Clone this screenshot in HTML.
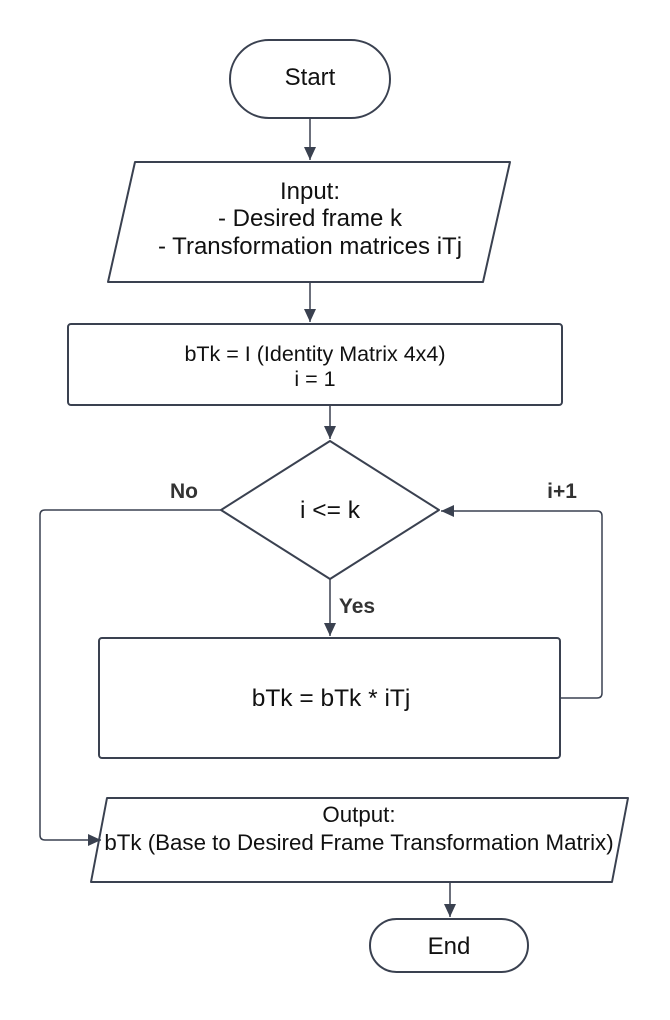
<!DOCTYPE html>
<html><head><style>body{margin:0;background:#fff}svg{display:block}</style></head><body>
<svg width="670" height="1020" viewBox="0 0 670 1020" xmlns="http://www.w3.org/2000/svg" font-family="Liberation Sans, sans-serif" fill="none">
<defs>
<marker id="b" markerWidth="14" markerHeight="14" refX="13" refY="7" orient="auto" markerUnits="userSpaceOnUse"><path d="M0,1 L13,7 L0,13 z" fill="#3a4150"/></marker></defs>
<g stroke="#3a4150" stroke-width="2">
<rect x="230" y="40" width="160" height="78" rx="39"/>
<path d="M135,162 L510,162 L483,282 L108,282 Z" stroke-linejoin="round"/>
<rect x="68" y="324" width="494" height="81" rx="3"/>
<path d="M330,441 L439,510 L330,579 L221,510 Z" stroke-linejoin="round"/>
<rect x="99" y="638" width="461" height="120" rx="3"/>
<path d="M107,798 L628,798 L612,882 L91,882 Z" stroke-linejoin="round"/>
<rect x="370" y="919" width="158" height="53" rx="26.5"/>
</g>
<g stroke="#3a4150" stroke-width="1.5">
<line x1="310" y1="118" x2="310" y2="160" marker-end="url(#b)"/>
<line x1="310" y1="282" x2="310" y2="322" marker-end="url(#b)"/>
<line x1="330" y1="405" x2="330" y2="439" marker-end="url(#b)"/>
<line x1="330" y1="579" x2="330" y2="636" marker-end="url(#b)"/>
<path d="M560,698 L597,698 Q602,698 602,693 L602,516 Q602,511 597,511 L441,511" marker-end="url(#b)"/>
<path d="M221,510 L45,510 Q40,510 40,515 L40,835 Q40,840 45,840 L101,840" marker-end="url(#b)"/>
<line x1="450" y1="882" x2="450" y2="917" marker-end="url(#b)"/>
</g>
<g fill="#111" text-anchor="middle">
<text x="310" y="85" font-size="24">Start</text>
<text x="310" y="199" font-size="24">Input:</text>
<text x="310" y="226" font-size="24">- Desired frame k</text>
<text x="310" y="254" font-size="24">- Transformation matrices iTj</text>
<text x="315" y="361" font-size="21.5">bTk = I (Identity Matrix 4x4)</text>
<text x="315" y="386" font-size="21.5">i = 1</text>
<text x="330" y="518" font-size="24.5">i &lt;= k</text>
<text x="331" y="706" font-size="24.5">bTk = bTk * iTj</text>
<text x="359" y="822" font-size="22.3">Output:</text>
<text x="359" y="850" font-size="22.3">bTk (Base to Desired Frame Transformation Matrix)</text>
<text x="449" y="954" font-size="24">End</text>
<text x="184" y="498" font-size="21" font-weight="bold" fill="#333">No</text>
<text x="562" y="498" font-size="21" font-weight="bold" fill="#333">i+1</text>
<text x="357" y="613" font-size="21" font-weight="bold" fill="#333">Yes</text>
</g>
</svg>
</body></html>
